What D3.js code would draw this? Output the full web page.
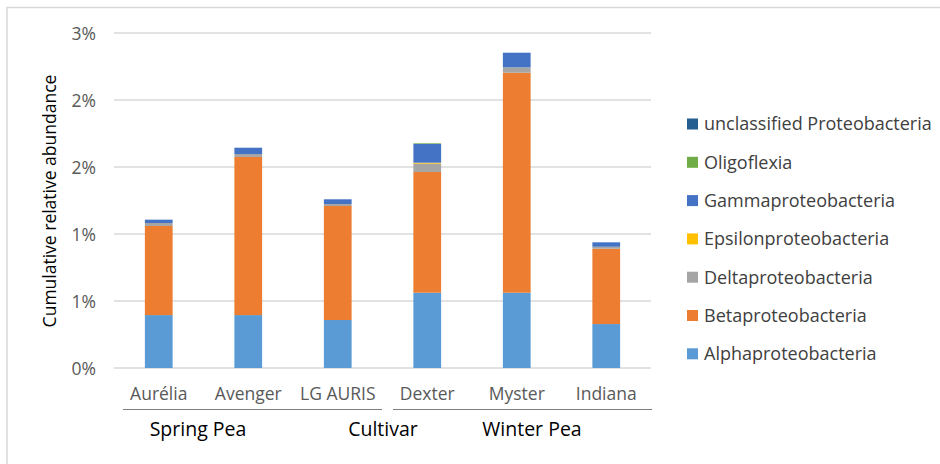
<!DOCTYPE html>
<html>
<head>
<meta charset="utf-8">
<script src="https://cdn.jsdelivr.net/npm/d3@7"></script>
<style>
  html, body { margin: 0; padding: 0; background: #fff; }
  svg { display: block; font-family: "Open Sans", "Noto Sans", sans-serif; }
</style>
</head>
<body>
<svg id="chart" width="940" height="464"></svg>
<script>
// ---- data ----
const categories = ["Aurélia", "Avenger", "LG AURIS", "Dexter", "Myster", "Indiana"];
const alphaproteobacteria = [0.395, 0.395, 0.358, 0.562, 0.562, 0.328];
const betaproteobacteria = [0.665, 1.180, 0.851, 0.901, 1.642, 0.562];
const deltaproteobacteria = [0.022, 0.022, 0.015, 0.062, 0.040, 0.015];
const epsilonproteobacteria = [0.000, 0.000, 0.000, 0.007, 0.000, 0.000];
const gammaproteobacteria = [0.025, 0.047, 0.035, 0.140, 0.109, 0.033];
const oligoflexia = [0.000, 0.000, 0.000, 0.005, 0.000, 0.000];
const unclassifiedProteobacteria = [0.000, 0.000, 0.000, 0.000, 0.000, 0.000];
const seriesNames = ["Alphaproteobacteria", "Betaproteobacteria", "Deltaproteobacteria",
  "Epsilonproteobacteria", "Gammaproteobacteria", "Oligoflexia", "unclassified Proteobacteria"];
const seriesColors = ["#5B9BD5", "#ED7D31", "#A5A5A5", "#FFC000", "#4472C4", "#70AD47", "#255E91"];
const tickValues = [0, 0.5, 1, 1.5, 2, 2.5];
const tickLabels = ["0%", "1%", "1%", "2%", "2%", "3%"];
const groupLabels = ["Spring Pea", "Cultivar", "Winter Pea"];
const yTitle = "Cumulative relative abundance";

// ---- build table ----
const seriesValues = [alphaproteobacteria, betaproteobacteria, deltaproteobacteria,
  epsilonproteobacteria, gammaproteobacteria, oligoflexia, unclassifiedProteobacteria];
const table = categories.map((c, i) => {
  const row = { category: c };
  seriesNames.forEach((s, k) => row[s] = seriesValues[k][i]);
  return row;
});
const stacked = d3.stack().keys(seriesNames)(table);

const svg = d3.select("#chart");

// outer border
svg.append("rect").attr("x", 7).attr("y", 7.5).attr("width", 960).attr("height", 480)
  .attr("fill", "none").attr("stroke", "#d9d9d9").attr("stroke-width", 1.5);

const x = d3.scaleBand().domain(categories).range([114, 651])
  .paddingInner(0.69).paddingOuter(0.345);
const y = d3.scaleLinear().domain([0, 2.5]).range([368, 33]);

// gridlines
svg.append("g").selectAll("line").data(tickValues).join("line")
  .attr("x1", 114).attr("x2", 651)
  .attr("y1", d => y(d)).attr("y2", d => y(d))
  .attr("stroke", "#d9d9d9").attr("stroke-width", 1.5);

// y axis labels
const yAxis = d3.axisLeft(y).tickValues(tickValues).tickSize(0)
  .tickFormat((d, i) => tickLabels[i]);
const gy = svg.append("g").attr("transform", "translate(99,0)").call(yAxis);
gy.select(".domain").remove();
gy.selectAll("text").attr("fill", "#595959").attr("font-size", "17.5px")
  .attr("font-family", "'Open Sans', sans-serif").attr("dy", "0.35em");

// bars
svg.append("g").selectAll("g").data(stacked).join("g")
  .attr("fill", (d, i) => seriesColors[i])
  .selectAll("rect").data(d => d).join("rect")
  .attr("x", d => x(d.data.category))
  .attr("width", x.bandwidth())
  .attr("y", d => y(d[1]))
  .attr("height", d => Math.max(0, y(d[0]) - y(d[1])));

// x axis category labels
const xAxis = d3.axisBottom(x).tickSize(0);
const gx = svg.append("g").attr("transform", "translate(0,368)").call(xAxis);
gx.select(".domain").remove();
gx.selectAll("text").attr("fill", "#595959").attr("font-size", "17.5px")
  .attr("font-family", "'Open Sans', sans-serif").attr("y", 0).attr("dy", "32px");

// group separator lines
const groupLines = [[123, 382], [393, 652]];
svg.append("g").selectAll("line").data(groupLines).join("line")
  .attr("x1", d => d[0]).attr("x2", d => d[1]).attr("y1", 409.5).attr("y2", 409.5)
  .attr("stroke", "#7f7f7f").attr("stroke-width", 1);

// group labels
const groupX = [198, 383, 532];
svg.append("g").selectAll("text").data(groupLabels).join("text")
  .attr("x", (d, i) => groupX[i]).attr("y", 436)
  .attr("text-anchor", "middle").attr("font-size", "19.5px").attr("fill", "#000")
  .text(d => d);

// y title
svg.append("text").attr("transform", "translate(56,201) rotate(-90)")
  .attr("text-anchor", "middle").attr("font-size", "17.5px").attr("fill", "#000")
  .text(yTitle);

// legend (reverse order, top = unclassified)
const legendOrder = seriesNames.map((s, i) => i).reverse();
const lg = svg.append("g").selectAll("g").data(legendOrder).join("g")
  .attr("transform", (d, i) => `translate(687,${124 + i * 38.3})`);
lg.append("rect").attr("x", 0).attr("y", -5.5).attr("width", 11).attr("height", 11)
  .attr("fill", d => seriesColors[d]);
lg.append("text").attr("x", 17).attr("y", 0).attr("dy", "0.35em")
  .attr("font-size", "18px").attr("fill", "#404040")
  .text(d => seriesNames[d]);
</script>
</body>
</html>
